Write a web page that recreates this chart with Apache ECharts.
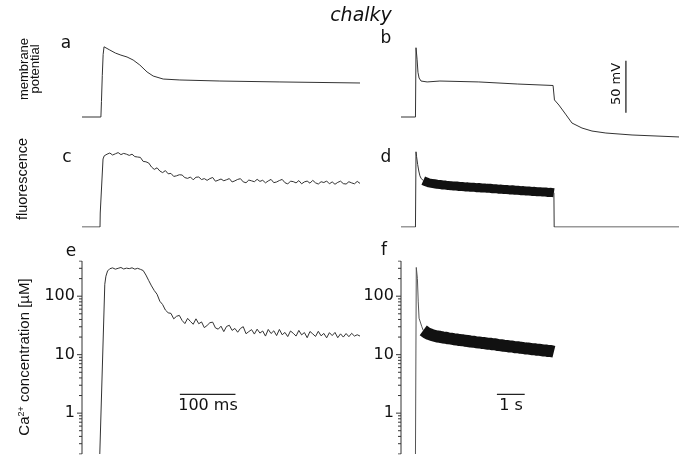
<!DOCTYPE html>
<html><head><meta charset="utf-8">
<script src="https://cdn.jsdelivr.net/npm/echarts@6/dist/echarts.min.js"></script>
<style>html,body{margin:0;padding:0;background:#fff}#c{width:688px;height:455px}</style>
</head><body><div id="c"></div>
<script>
// ---------- panel a: membrane potential, short pulse (time ms, mV) ----------
var aT = [0, 34, 35, 36.5, 38, 39.6, 43, 50, 60, 70, 81, 92, 104, 117, 128, 146, 176, 248, 356, 500];
var aV = [-75, -75, -60, -35, -15, -7.5, -8.5, -10.6, -13.5, -15.5, -17.3, -20.2, -25, -31.7, -35.6, -38.5, -39.4, -40.4, -41.3, -42.3];
// ---------- panel b: membrane potential, long pulse (time s, mV) ----------
var bT = [0, 0.52, 0.54, 0.58, 0.61, 0.65, 0.72, 0.94, 1.4, 2.8, 4.2, 5.47, 5.5, 5.52, 5.68, 5.94, 6.15, 6.51, 6.87, 7.37, 8.31, 10];
var bV = [-75, -75, -8.4, -20, -32, -37.5, -40.4, -41.3, -40.4, -41.3, -43.3, -44.7, -45.5, -58.6, -63.5, -73, -80.8, -85.6, -88.5, -90.4, -92.3, -94.2];
var scaleBarMV_T = [8.09, 8.09];
var scaleBarMV_V = [-21, -71];          // 50 mV
// ---------- panel c: fluorescence, short pulse ----------
var cPreT = [0, 32.4, 32.8, 35.5, 37.8, 40, 43];
var cPreV = [0, 0, 17.5, 19, 85, 89, 91];
var cNoiseStart = 45, cNoiseStep = 5;   // ms
var cNoiseV = [91, 92.5, 90, 91.5, 93, 90.5, 92, 91, 89.5, 91, 88, 87.5,
  87, 82, 81.5, 80, 75, 72, 74, 70, 68, 70.5,
  66.5, 67, 63.2, 64, 65.3, 65, 61.7, 60.8, 62.5, 59,
  62.2, 62.5, 59.3, 60.5, 58.3, 60.5, 61.9, 57.2, 58.5, 60,
  57.8, 59.1, 60.5, 56.3, 57.7, 59.5, 60.4, 56.4, 55.3, 58.7,
  57.7, 56.6, 59.6, 57, 58.4, 55.2, 57.6, 59.5, 55.4, 56.3,
  58.1, 59.5, 55.4, 53.8, 57.3, 56.7, 55.1, 58, 54, 56.4,
  57.4, 54.8, 58.3, 55.2, 53.7, 56.6, 55.6, 57.5, 54, 56.4,
  53.4, 55.8, 57.3, 54.2, 53.7, 56.6, 55.1, 54, 57, 54.5];
// ---------- panel d: fluorescence, long pulse ----------
var dSpikeT = [0, 0.52, 0.54, 0.56, 0.6, 0.64, 0.68, 0.72, 0.8];
var dSpikeV = [0, 0, 94, 88, 78, 70, 64, 61, 58];
var dBandStart = 0.8, dBandStep = 0.1; // s
var dBandV = [58, 56.5, 55.2, 54.6, 54, 53.4, 53.2, 52.5, 52.4, 51.8,
  51.7, 51.1, 51.2, 50.6, 50.6, 50.1, 50.2, 49.7, 49.8, 49.2,
  49.4, 48.8, 48.9, 48.3, 48.4, 47.8, 47.9, 47.3, 47.4, 46.9,
  46.9, 46.4, 46.5, 45.9, 46, 45.4, 45.5, 45, 45, 44.5,
  44.6, 44, 44.2, 43.6, 43.7, 43.2, 43.3, 42.8];
var dTailT = [5.5, 5.51, 10];
var dTailV = [42.8, 0, 0];
// ---------- panel e: Ca2+ concentration (uM, log), short pulse ----------
var ePreT = [32, 41, 43, 46];
var ePreV = [0.2, 160, 220, 270];
var eNoiseStart = 50, eNoiseStep = 5;   // ms
var eNoiseV = [295, 305, 290, 300, 310, 292, 302, 296, 306, 290,
  300, 288, 275, 230, 185, 150, 125, 108, 82, 72, 58, 52,
  50.8, 41, 45.3, 47, 38.5, 34, 41.8, 37, 33.1, 41,
  33.8, 36.3, 29, 31.6, 35.2, 36, 28.7, 27.3, 30.7, 24.8,
  30.4, 31.8, 26, 28.1, 24.2, 28.1, 30.1, 22.8, 24.8, 26.8,
  22.5, 27.3, 23.4, 25.4, 20.8, 27, 23, 25.6, 21.2, 27,
  21.9, 24, 20.4, 25.4, 23.2, 20.8, 26, 21.8, 23.9, 19.5,
  24.9, 22.7, 20.5, 25.1, 21, 23.1, 19.4, 23.8, 21.2, 24,
  19.5, 22.7, 20, 23, 20.3, 23.2, 20.8, 21.9, 20.8];
var scaleBarMs_T = [176, 276];          // 100 ms
var scaleBarMs_V = [2.1, 2.1];
// ---------- panel f: Ca2+ concentration, long pulse ----------
var fSpikeT = [0.52, 0.55, 0.59, 0.62, 0.65, 0.75, 0.8];
var fSpikeV = [0.2, 310, 200, 80, 42, 30, 26];
var fBandStart = 0.8, fBandStep = 0.1;  // s
var fBandV = [26, 24, 22.6, 21.7, 21.1, 20.5, 20.2, 19.7, 19.5, 19,
  18.8, 18.4, 18.2, 17.8, 17.7, 17.3, 17.1, 16.8, 16.7, 16.3,
  16.2, 15.9, 15.8, 15.4, 15.4, 15, 15, 14.6, 14.5, 14.2,
  14.1, 13.8, 13.8, 13.4, 13.4, 13.1, 13, 12.7, 12.7, 12.4,
  12.4, 12.1, 12.1, 11.8, 11.8, 11.5, 11.5, 11.2];
var scaleBarS_T = [3.45, 4.45];         // 1 s
var scaleBarS_V = [2.1, 2.1];
// ---------- log axis range and ticks ----------
var logMin = 0.2, logMax = 400;
var majorTicks = [1, 10, 100];
var minorTicks = [0.2, 0.3, 0.4, 0.5, 0.6, 0.7, 0.8, 0.9, 2, 3, 4, 5, 6, 7, 8, 9,
  20, 30, 40, 50, 60, 70, 80, 90, 200, 300, 400];

function zip(t, v) { return t.map(function (x, i) { return [x, v[i]]; }); }
function sampled(start, step, v) { return v.map(function (y, i) { return [+(start + i * step).toFixed(4), y]; }); }

var COL = '#333';
var leftX = 82, rightX = 401, W = 278;
var xMax = [500, 10, 500, 10, 500, 10];
// the log panels get a little room left of t = 0 so their axis line and ticks sit inside the plot
var xMin = [0, 0, 0, 0, -10, -0.2];
function gridFor(i, top, height) {
  var x0 = (i % 2 === 0) ? leftX : rightX;
  var pxPerUnit = W / xMax[i];
  var pad = -xMin[i] * pxPerUnit;
  return { left: x0 - pad, top: top, width: W + pad, height: height, outerBoundsMode: 'none' };
}
var grids = [
  gridFor(0, 39, 104), gridFor(1, 39, 104),
  gridFor(2, 147, 80), gridFor(3, 147, 80),
  gridFor(4, 261, 193), gridFor(5, 261, 193)
];
var xAxes = grids.map(function (g, i) {
  return { type: 'value', gridIndex: i, show: false, min: xMin[i], max: xMax[i] };
});
function logAxis(gi) {
  return {
    type: 'log', gridIndex: gi, min: logMin, max: logMax,
    axisLine: { show: false },
    axisTick: { show: false },
    minorTick: { show: false },
    splitLine: { show: false },
    axisLabel: { show: true, margin: 1.5, color: '#111', fontFamily: 'DejaVu Sans', fontSize: 16,
      showMinLabel: false, showMaxLabel: false }
  };
}
var yAxes = [
  { type: 'value', gridIndex: 0, show: false, min: -100, max: 0 },
  { type: 'value', gridIndex: 1, show: false, min: -100, max: 0 },
  { type: 'value', gridIndex: 2, show: false, min: 0, max: 100 },
  { type: 'value', gridIndex: 3, show: false, min: 0, max: 100 },
  logAxis(4),
  logAxis(5)
];

function line(gi, data, extra) {
  var s = {
    type: 'line', xAxisIndex: gi, yAxisIndex: gi, data: data, showSymbol: false,
    animation: false, lineStyle: { color: COL, width: 1 }
  };
  if (extra) { for (var k in extra) s[k] = extra[k]; }
  return s;
}

var series = [
  line(0, zip(aT, aV)),
  line(1, zip(bT, bV)),
  line(1, zip(scaleBarMV_T, scaleBarMV_V), { lineStyle: { color: '#444', width: 1.5 } }),
  line(2, zip(cPreT, cPreV).concat(sampled(cNoiseStart, cNoiseStep, cNoiseV))),
  line(3, zip(dSpikeT, dSpikeV)),
  line(3, sampled(dBandStart, dBandStep, dBandV), { lineStyle: { color: '#111', width: 9, join: 'round' } }),
  line(3, zip(dTailT, dTailV)),
  line(4, zip(ePreT, ePreV).concat(sampled(eNoiseStart, eNoiseStep, eNoiseV))),
  line(4, zip(scaleBarMs_T, scaleBarMs_V), { lineStyle: { color: '#222', width: 1.2 } }),
  line(5, zip(fSpikeT, fSpikeV), { lineStyle: { color: '#555', width: 1 } }),
  line(5, sampled(fBandStart, fBandStep, fBandV), { lineStyle: { color: '#111', width: 12, join: 'round' } }),
  line(5, zip(scaleBarS_T, scaleBarS_V), { lineStyle: { color: '#222', width: 1.2 } })
];
// y-axis line and tick marks of the log panels, drawn through the log scale
[4, 5].forEach(function (gi) {
  series.push(line(gi, [[0, logMin], [0, logMax]]));
  function addTicks(vals, lenPx) {
    var dx = lenPx * xMax[gi] / W;
    vals.forEach(function (v) {
      series.push(line(gi, [[-dx, v], [0, v]]));
    });
  }
  addTicks(majorTicks, 5);
  addTicks(minorTicks, 3);
});

function txt(x, y, text, opt) {
  var st = { text: text, x: 0, y: 0, fill: '#111', fontFamily: 'DejaVu Sans', fontSize: 16,
    textAlign: 'center', textVerticalAlign: 'middle', align: 'center', verticalAlign: 'middle' };
  var o = opt || {};
  for (var k in o.style || {}) st[k] = o.style[k];
  return { type: 'text', x: x, y: y, rotation: o.rotation || 0, style: st, silent: true };
}
var R = Math.PI / 2;
var graphics = [
  txt(361, 16, 'chalky', { style: { fontStyle: 'italic', fontSize: 19 } }),
  txt(66, 44, 'a', { style: { fontSize: 17 } }),
  txt(386, 39, 'b', { style: { fontSize: 17 } }),
  txt(67, 158, 'c', { style: { fontSize: 17 } }),
  txt(386, 158, 'd', { style: { fontSize: 17 } }),
  txt(71, 252, 'e', { style: { fontSize: 17 } }),
  txt(384, 251, 'f', { style: { fontSize: 17 } }),
  txt(30, 69, 'membrane\npotential', { rotation: R, style: { fontFamily: 'Liberation Sans', fontSize: 13, lineHeight: 11 } }),
  txt(23, 179, 'fluorescence', { rotation: R, style: { fontFamily: 'Liberation Sans', fontSize: 14.5 } }),
  txt(25, 357, 'Ca{sup|2+} concentration [µM]', { rotation: R, style: { fontFamily: 'Liberation Sans', fontSize: 15,
    rich: { sup: { fontFamily: 'Liberation Sans', fontSize: 9, verticalAlign: 'top', fill: '#111' } } } }),
  txt(617, 84, '50 mV', { rotation: R, style: { fontSize: 13 } }),
  txt(208, 406, '100 ms', { style: { fontSize: 16 } }),
  txt(511, 406, '1 s', { style: { fontSize: 16 } })
];

var chart = echarts.init(document.getElementById('c'), null, { renderer: 'canvas' });
chart.setOption({
  animation: false,
  backgroundColor: '#fff',
  grid: grids,
  xAxis: xAxes,
  yAxis: yAxes,
  series: series,
  graphic: graphics
});
</script></body></html>
